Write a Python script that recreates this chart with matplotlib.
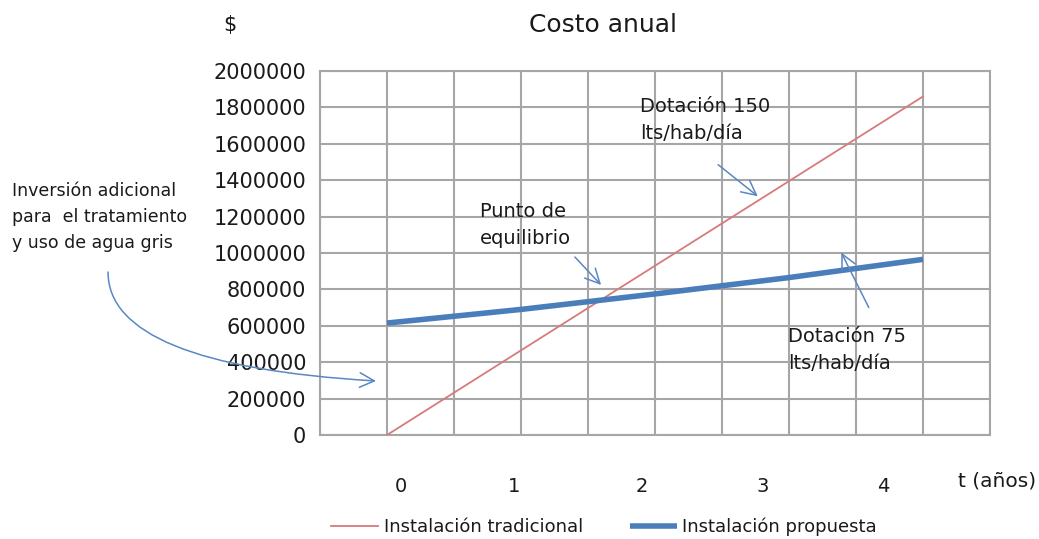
import matplotlib
matplotlib.use("Agg")
import matplotlib.pyplot as plt
from matplotlib.ticker import MultipleLocator
from matplotlib.path import Path
from matplotlib.patches import FancyArrowPatch

plt.rcParams['font.family'] = ['DejaVu Sans']

# ---- data ----
years = [0, 1, 2, 3, 4]
traditional = [0, 465000, 930000, 1395000, 1860000]
proposed = [615000, 690000, 775000, 865000, 965000]
year_labels = ["0", "1", "2", "3", "4"]
y_ticks = list(range(0, 2000001, 200000))
series_names = ["Instalación tradicional", "Instalación propuesta"]

# ---- layout ----
W, H = 1039, 539
fig = plt.figure(figsize=(W / 100, H / 100), dpi=100)
L, R, T, B = 320, 990, 71, 435
ax = fig.add_axes([L / W, 1 - B / H, (R - L) / W, (B - T) / H])

txt = '#1a1a1a'
grid_c = '#a6a6a6'
red = '#d77b7a'
blue = '#4a7ebb'
arrow_c = '#5b87c2'

ax.plot(years, traditional, color=red, lw=1.3, label=series_names[0], zorder=3)
ax.plot(years, proposed, color=blue, lw=4, label=series_names[1], zorder=3,
        solid_capstyle='butt')

ax.set_xlim(-0.5, 4.5)
ax.set_ylim(0, 2000000)
ax.xaxis.set_minor_locator(MultipleLocator(0.5))
label_pos = [0.1, 0.95, 1.9, 2.8, 3.7]
ax.set_xticks(label_pos, year_labels)
ax.set_yticks(y_ticks, [str(v) for v in y_ticks])
ax.grid(True, which='minor', axis='x', color=grid_c, lw=1.5)
ax.grid(True, which='major', axis='y', color=grid_c, lw=1.5)
ax.tick_params(axis='both', which='both', length=0, colors=txt)
ax.tick_params(axis='x', pad=30, labelsize=14)
ax.tick_params(axis='y', pad=10, labelsize=15)
for s in ax.spines.values():
    s.set_color(grid_c)
    s.set_linewidth(1.5)

def fx(x):
    return x / W

def fy(y):
    return 1 - y / H

fig.text(fx(603), fy(25), "Costo anual", fontsize=18, ha='center', va='center', color=txt)
fig.text(fx(230), fy(25), "$", fontsize=15, ha='center', va='center', color=txt)
fig.text(fx(958), fy(481), "t (años)", fontsize=14.5, ha='left', va='center', color=txt)

fig.text(fx(640), fy(120), "Dotación 150\nlts/hab/día", fontsize=14, ha='left',
         va='center', color=txt, linespacing=1.55)
fig.text(fx(480), fy(225), "Punto de\nequilibrio", fontsize=14, ha='left',
         va='center', color=txt, linespacing=1.55)
fig.text(fx(788), fy(350), "Dotación 75\nlts/hab/día", fontsize=14, ha='left',
         va='center', color=txt, linespacing=1.55)
fig.text(fx(12), fy(217), "Inversión adicional\npara  el tratamiento\ny uso de agua gris",
         fontsize=12.5, ha='left', va='center', color=txt, linespacing=1.6)

style = '->,head_length=7,head_width=3.5'

def arrow(x0, y0, x1, y1):
    fig.add_artist(FancyArrowPatch(
        (fx(x0), fy(y0)), (fx(x1), fy(y1)), transform=fig.transFigure,
        arrowstyle=style, color=arrow_c, lw=1.1, mutation_scale=1.5))

arrow(716, 163, 760, 198)
arrow(573, 255, 603, 287)
arrow(870, 310, 840, 250)

curve = Path([(fx(108), fy(272)), (fx(108), fy(365)), (fx(376), fy(381))],
             [Path.MOVETO, Path.CURVE3, Path.CURVE3])
fig.add_artist(FancyArrowPatch(path=curve, transform=fig.transFigure,
                               arrowstyle=style, color=arrow_c, lw=1.1,
                               mutation_scale=1.5))

fig.legend(loc='center', bbox_to_anchor=(fx(604), fy(527)), ncol=2, frameon=False,
           fontsize=13, handlelength=2.6, handletextpad=0.3, columnspacing=2.6,
           labelcolor=txt)

fig.savefig("out.png", dpi=100)
